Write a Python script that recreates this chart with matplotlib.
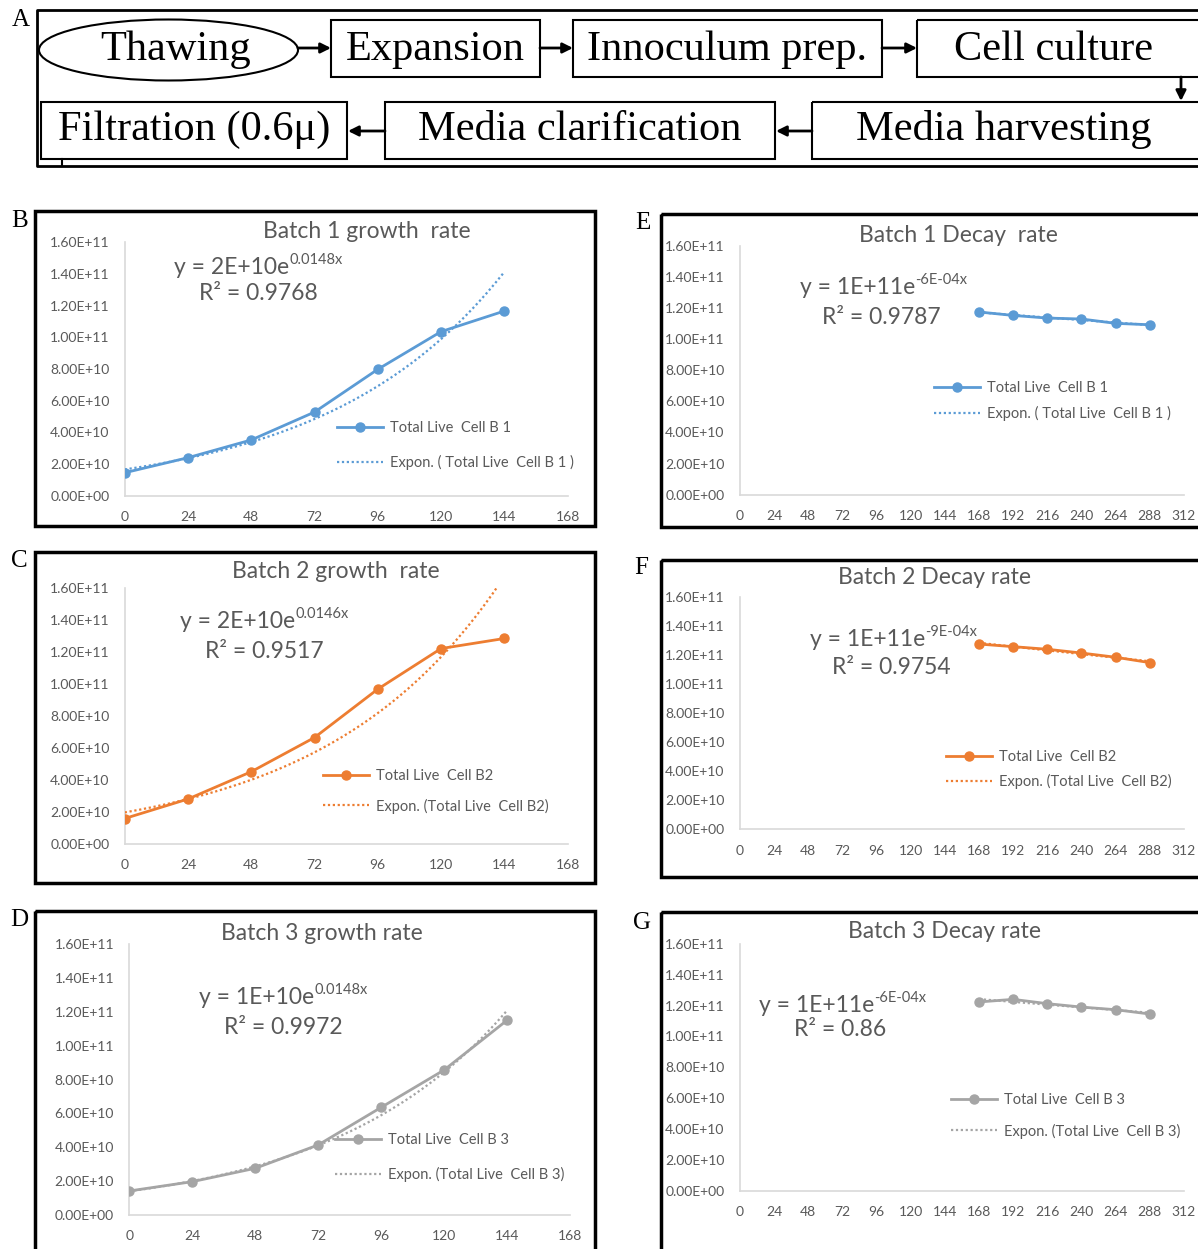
import numpy as np
import matplotlib.pyplot as plt
from matplotlib.patches import Rectangle, Ellipse
from matplotlib.ticker import FuncFormatter

W, H = 1198, 1249

# ---- data ----
growth_hours = [0, 24, 48, 72, 96, 120, 144]
growth_b1 = [1.45e10, 2.40e10, 3.52e10, 5.28e10, 7.98e10, 1.036e11, 1.166e11]
growth_b2 = [1.57e10, 2.79e10, 4.50e10, 6.64e10, 9.67e10, 1.221e11, 1.284e11]
growth_b3 = [1.42e10, 1.97e10, 2.76e10, 4.14e10, 6.36e10, 8.57e10, 1.151e11]
growth_xticks = [0, 24, 48, 72, 96, 120, 144, 168]

decay_hours = [168, 192, 216, 240, 264, 288]
decay_b1 = [1.174e11, 1.152e11, 1.135e11, 1.129e11, 1.101e11, 1.092e11]
decay_b2 = [1.276e11, 1.258e11, 1.240e11, 1.214e11, 1.185e11, 1.148e11]
decay_b3 = [1.223e11, 1.240e11, 1.212e11, 1.190e11, 1.173e11, 1.145e11]
decay_xticks = [0, 24, 48, 72, 96, 120, 144, 168, 192, 216, 240, 264, 288, 312]

yticks = [0, 2e10, 4e10, 6e10, 8e10, 1e11, 1.2e11, 1.4e11, 1.6e11]

steps_top = ["Thawing", "Expansion", "Innoculum prep.", "Cell culture"]
steps_bottom = ["Filtration (0.6\u03bc)", "Media clarification", "Media harvesting"]

BLUE, ORANGE, GREY = "#5B9BD5", "#ED7D31", "#A5A5A5"
TXT = "#595959"
SANS = "Lato"
SERIF = "Liberation Serif"

fig = plt.figure(figsize=(W / 100, H / 100), dpi=100)
bg = fig.add_axes([0, 0, 1, 1])
bg.set_xlim(0, W)
bg.set_ylim(H, 0)
bg.axis("off")


def fx(x):
    return x / W


def fy(y):
    return 1 - y / H


def arrow(x1, y1, x2, y2):
    bg.annotate("", xy=(x2, y2), xytext=(x1, y1),
                arrowprops=dict(arrowstyle="-|>", lw=2, color="k",
                                mutation_scale=15, shrinkA=0, shrinkB=0))


# ---- panel A: process flow ----
bg.plot([1200, 37, 37, 1200], [10, 10, 166, 166], color="k", lw=2)
bg.plot([62, 62], [159, 166], color="k", lw=1.5)
bg.add_patch(Ellipse((168.5, 50), 259, 61, fill=False, ec="k", lw=1.5))
top_boxes = [(331, 540), (573, 882), (917, 1215)]
for x0, x1 in top_boxes:
    bg.add_patch(Rectangle((x0, 20), x1 - x0, 57, fill=False, ec="k", lw=1.5))
bot_boxes = [(41, 347), (385, 775), (812, 1215)]
for x0, x1 in bot_boxes:
    bg.add_patch(Rectangle((x0, 102), x1 - x0, 57, fill=False, ec="k", lw=1.5))

top_cx = [176, 435, 727, 1054]
for name, cx in zip(steps_top, top_cx):
    bg.text(cx, 60, name, ha="center", va="baseline", fontsize=30.5, family=SERIF)
bot_cx = [194, 580, 1004]
for name, cx in zip(steps_bottom, bot_cx):
    bg.text(cx, 140, name, ha="center", va="baseline", fontsize=30.5, family=SERIF)

arrow(298, 48, 331, 48)
arrow(540, 48, 573, 48)
arrow(882, 48, 917, 48)
arrow(1181, 77, 1181, 101)
arrow(812, 131, 776, 131)
arrow(385, 131, 348, 131)
bg.text(21, 20, "A", ha="center", va="center", fontsize=18, family=SERIF)

# ---- panels B-G ----
panels = [
    dict(letter="B", lp=(20, 221), border=(35, 211, 595, 526),
         area=(124.7, 242.3, 567.6, 495.7), x=growth_hours, y=growth_b1,
         xmax=168, xt=growth_xticks, color=BLUE, title="Batch 1 growth  rate",
         tpos=(367, 232), eq=("y = 2E+10e", "0.0148x"), eqpos=(174, 268),
         r2="R\u00b2 = 0.9768", r2pos=(199, 294),
         lab="Total Live  Cell B 1", tlab="Expon. ( Total Live  Cell B 1 )",
         leg=(337, 421), lsp=1.4),
    dict(letter="C", lp=(19, 561), border=(35, 552, 595, 883),
         area=(124.7, 588, 567.6, 843.6), x=growth_hours, y=growth_b2,
         xmax=168, xt=growth_xticks, color=ORANGE, title="Batch 2 growth  rate",
         tpos=(336, 572), eq=("y = 2E+10e", "0.0146x"), eqpos=(180, 622),
         r2="R\u00b2 = 0.9517", r2pos=(205, 651),
         lab="Total Live  Cell B2", tlab="Expon. (Total Live  Cell B2)",
         leg=(323, 769), lsp=1.06),
    dict(letter="D", lp=(19, 920), border=(35, 911, 595, 1260),
         area=(129.3, 944.3, 570, 1215), x=growth_hours, y=growth_b3,
         xmax=168, xt=growth_xticks, color=GREY, title="Batch 3 growth rate",
         tpos=(322, 933), eq=("y = 1E+10e", "0.0148x"), eqpos=(199, 998),
         r2="R\u00b2 = 0.9972", r2pos=(224, 1028),
         lab="Total Live  Cell B 3", tlab="Expon. (Total Live  Cell B 3)",
         leg=(335, 1133), lsp=1.4),
    dict(letter="E", lp=(643, 223), border=(661, 214, 1215, 527),
         area=(739.8, 245.7, 1184, 494.7), x=decay_hours, y=decay_b1,
         xmax=312, xt=decay_xticks, color=BLUE, title="Batch 1 Decay  rate",
         tpos=(958, 235), eq=("y = 1E+11e", "-6E-04x"), eqpos=(800, 288),
         r2="R\u00b2 = 0.9787", r2pos=(822, 317),
         lab="Total Live  Cell B 1", tlab="Expon. ( Total Live  Cell B 1 )",
         leg=(934, 381), lsp=0.78),
    dict(letter="F", lp=(641, 568), border=(661, 560, 1215, 877),
         area=(739.8, 597, 1184, 829.3), x=decay_hours, y=decay_b2,
         xmax=312, xt=decay_xticks, color=ORANGE, title="Batch 2 Decay rate",
         tpos=(935, 578), eq=("y = 1E+11e", "-9E-04x"), eqpos=(810, 640),
         r2="R\u00b2 = 0.9754", r2pos=(832, 667),
         lab="Total Live  Cell B2", tlab="Expon. (Total Live  Cell B2)",
         leg=(946, 750), lsp=0.71),
    dict(letter="G", lp=(642, 923), border=(661, 912, 1215, 1260),
         area=(739.8, 943.7, 1184, 1191), x=decay_hours, y=decay_b3,
         xmax=312, xt=decay_xticks, color=GREY, title="Batch 3 Decay rate",
         tpos=(945, 932), eq=("y = 1E+11e", "-6E-04x"), eqpos=(759, 1006),
         r2="R\u00b2 = 0.86", r2pos=(794, 1030),
         lab="Total Live  Cell B 3", tlab="Expon. (Total Live  Cell B 3)",
         leg=(951, 1093), lsp=1.13),
]

sci = FuncFormatter(lambda v, pos: f"{v:.2E}")

for p in panels:
    bx0, by0, bx1, by1 = p["border"]
    bg.add_patch(Rectangle((bx0, by0), bx1 - bx0, by1 - by0, fill=False, ec="k", lw=2.5))
    bg.text(p["lp"][0], p["lp"][1], p["letter"], ha="center", va="center",
            fontsize=18, family=SERIF)

    l, t, r, b = p["area"]
    ax = fig.add_axes([fx(l), fy(b), (r - l) / W, (b - t) / H])
    ax.patch.set_alpha(0)
    x = np.array(p["x"], dtype=float)
    y = np.array(p["y"], dtype=float)

    # exponential trendline, least squares on log values like Excel
    k, c = np.polyfit(x, np.log(y), 1)
    xs = np.linspace(x.min(), x.max(), 200)
    ax.plot(x, y, color=p["color"], lw=2, marker="o", ms=6.5, label=p["lab"], zorder=3)
    ax.plot(xs, np.exp(c + k * xs), color=p["color"], lw=1.6, ls=(0, (1, 1.2)),
            label=p["tlab"], zorder=4)

    ax.set_xlim(0, p["xmax"])
    ax.set_ylim(0, 1.6e11)
    ax.set_xticks(p["xt"])
    ax.set_yticks(yticks)
    ax.yaxis.set_major_formatter(sci)
    for s in ["top", "right"]:
        ax.spines[s].set_visible(False)
    for s in ["left", "bottom"]:
        ax.spines[s].set_color("#D9D9D9")
        ax.spines[s].set_linewidth(1.2)
    ax.tick_params(length=0, labelsize=10, labelcolor=TXT, pad=11)
    for lbl in ax.get_xticklabels() + ax.get_yticklabels():
        lbl.set_family(SANS)

    fig.text(fx(p["tpos"][0]), fy(p["tpos"][1]), p["title"], ha="center", va="center",
             fontsize=16.5, color=TXT, family=SANS)
    eq = fig.text(fx(p["eqpos"][0]), fy(p["eqpos"][1]), p["eq"][0], ha="left",
                  va="center", fontsize=16.5, color=TXT, family=SANS)
    ax.annotate(p["eq"][1], xy=(1.0, 0.55), xycoords=eq, ha="left", va="bottom",
                fontsize=10.5, color=TXT, family=SANS)
    fig.text(fx(p["r2pos"][0]), fy(p["r2pos"][1]), p["r2"], ha="left", va="center",
             fontsize=16.5, color=TXT, family=SANS)

    ax.legend(loc="upper left", bbox_to_anchor=(fx(p["leg"][0]), fy(p["leg"][1])),
              bbox_transform=fig.transFigure, frameon=False, borderpad=0,
              borderaxespad=0, handlelength=3.15, handletextpad=0.48,
              labelspacing=p["lsp"], prop=dict(family=SANS, size=10.5),
              labelcolor=TXT)

fig.savefig("out.png", dpi=100)
